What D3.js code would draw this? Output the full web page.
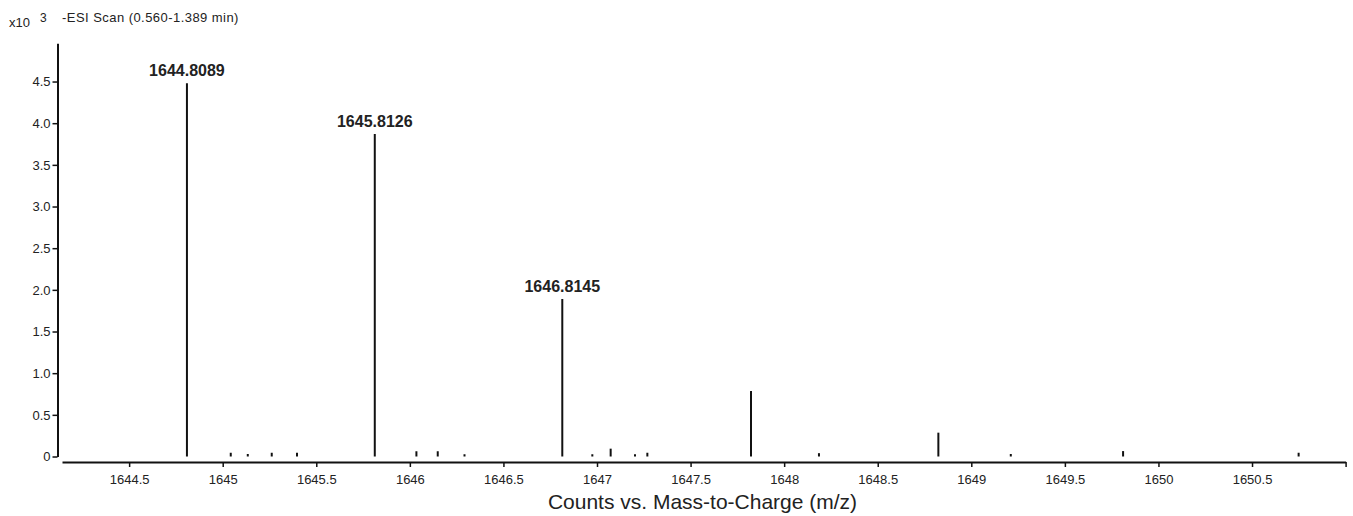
<!DOCTYPE html>
<html>
<head>
<meta charset="utf-8">
<script src="https://cdn.jsdelivr.net/npm/d3@7"></script>
<style>
  html, body { margin: 0; padding: 0; background: #fff; }
  svg { display: block; font-family: "Liberation Sans", Arial, sans-serif; }
</style>
</head>
<body>
<svg id="chart" width="1353" height="516"></svg>
<script>
// Centroided peaks of the -ESI scan: m/z and abundance (counts, x10^3)
const peakMz = [1644.8089, 1645.043, 1645.134, 1645.262, 1645.397,
                1645.8126, 1646.035, 1646.149, 1646.292,
                1646.8145, 1646.975, 1647.073, 1647.203, 1647.269,
                1647.823, 1648.186, 1648.824, 1649.211, 1649.811, 1650.749];
const peakCounts = [4.478, 0.045, 0.030, 0.045, 0.045,
                    3.870, 0.063, 0.063, 0.027,
                    1.890, 0.027, 0.094, 0.027, 0.045,
                    0.786, 0.040, 0.286, 0.030, 0.065, 0.045];
// Peaks annotated with their m/z
const labeledMz = [1644.8089, 1645.8126, 1646.8145];

const xTicks = [1644.5, 1645, 1645.5, 1646, 1646.5, 1647, 1647.5,
                1648, 1648.5, 1649, 1649.5, 1650, 1650.5, 1651];
const yTicks = [0, 0.5, 1.0, 1.5, 2.0, 2.5, 3.0, 3.5, 4.0, 4.5];

const xDomain = [1644.1413, 1651.0];
const yDomain = [0, 4.96];

const svg = d3.select("#chart");
const ink = "#111";
const textInk = "#222";

const x = d3.scaleLinear().domain(xDomain).range([62, 1345.6]);
const y = d3.scaleLinear().domain(yDomain).range([456.5, 43.2]);

// Y axis
const yAxis = d3.axisLeft(y)
  .tickValues(yTicks)
  .tickFormat(d => d === 0 ? "0" : d3.format(".1f")(d))
  .tickSize(5).tickSizeOuter(0).tickPadding(2);
const gy = svg.append("g").attr("transform", "translate(57.5,0)").call(yAxis);
gy.select(".domain").attr("stroke", ink).attr("stroke-width", 2);
gy.selectAll(".tick line").attr("stroke", ink).attr("stroke-width", 1.5);
gy.selectAll(".tick text").attr("fill", textInk)
  .style("font-size", "13px").style("font-family", "'Liberation Sans', Arial, sans-serif");

// X axis
const xAxis = d3.axisBottom(x)
  .tickValues(xTicks)
  .tickFormat(d => d === 1651 ? "" : String(d))
  .tickSize(5).tickSizeOuter(0).tickPadding(8);
const gx = svg.append("g").attr("transform", "translate(0,462)").call(xAxis);
gx.select(".domain").attr("stroke", ink).attr("stroke-width", 2);
gx.selectAll(".tick line").attr("stroke", ink).attr("stroke-width", 1.5);
gx.selectAll(".tick text").attr("fill", textInk)
  .style("font-size", "13px").style("font-family", "'Liberation Sans', Arial, sans-serif");

// Stick spectrum
const peaks = peakMz.map((m, i) => ({ mz: m, v: peakCounts[i] }));
svg.append("g").selectAll("line.peak").data(peaks).join("line")
  .attr("class", "peak")
  .attr("x1", d => x(d.mz)).attr("x2", d => x(d.mz))
  .attr("y1", y(0)).attr("y2", d => y(d.v))
  .attr("stroke", ink).attr("stroke-width", 2);

// m/z annotations above the main isotopes
svg.append("g").selectAll("text.plabel")
  .data(peaks.filter(p => labeledMz.includes(p.mz))).join("text")
  .attr("class", "plabel")
  .attr("x", d => x(d.mz)).attr("y", d => y(d.v) - 7.5)
  .attr("text-anchor", "middle")
  .attr("fill", textInk)
  .style("font-size", "16px").style("font-weight", "bold")
  .text(d => d.mz.toFixed(4));

// Header: scale factor and scan description
svg.append("text").attr("x", 9).attr("y", 26.5).attr("fill", textInk)
  .style("font-size", "13px").text("x10");
svg.append("text").attr("x", 40).attr("y", 22).attr("fill", textInk)
  .style("font-size", "12px").text("3");
svg.append("text").attr("x", 62).attr("y", 22).attr("fill", textInk)
  .style("font-size", "13px").style("letter-spacing", "0.45px")
  .text("-ESI Scan (0.560-1.389 min)");

// X axis title
svg.append("text").attr("x", (62 + 1343) / 2).attr("y", 509)
  .attr("text-anchor", "middle").attr("fill", textInk)
  .style("font-size", "21px").text("Counts vs. Mass-to-Charge (m/z)");
</script>
</body>
</html>
